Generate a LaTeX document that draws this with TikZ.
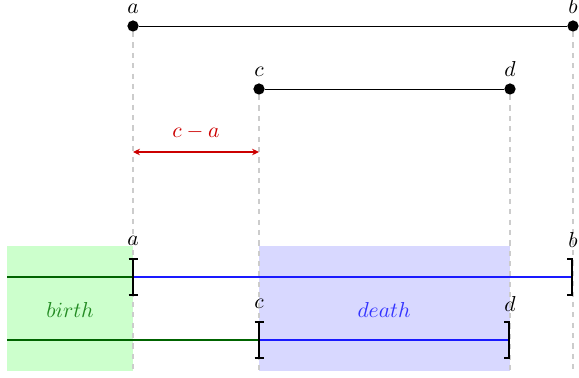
\documentclass[tikz,border=0pt]{standalone}
\usetikzlibrary{arrows.meta}
\definecolor{dgreen}{RGB}{0,100,0}
\definecolor{tgreen}{RGB}{34,139,34}
\definecolor{lgreen}{RGB}{204,255,204}
\definecolor{lblue}{RGB}{216,216,255}
\definecolor{mblue}{RGB}{26,26,255}
\definecolor{tblue}{RGB}{51,51,255}
\definecolor{dred}{RGB}{204,0,0}
\tikzset{
  dot/.style={circle,fill=black,inner sep=0pt,minimum size=5.2pt},
  guide/.style={draw=gray!40,line width=0.5pt,dash pattern=on 2.4pt off 2.4pt},
  seg/.style={line width=0.4pt},
  birthline/.style={draw=dgreen,line width=1.3pt},
  deathline/.style={draw=mblue,line width=1.3pt},
  brk/.style={line width=0.8pt},
  pt/.style={inner sep=0pt,minimum size=0pt},
  toplab/.style={anchor=south,inner sep=2.8pt},
}
\begin{document}
\begin{tikzpicture}[x=0.4625pt,y=-0.4625pt]
\useasboundingbox (0,0) rectangle (579,377);
% fills
\fill[lgreen] (7,246) rectangle (133,371);
\fill[lblue] (259,246) rectangle (510,371);
% top dots
\node[dot] (a1) at (133,26) {};
\node[dot] (b1) at (573,26) {};
\node[dot] (c1) at (259,89) {};
\node[dot] (d1) at (510,89) {};
\node[toplab] (la1) at (a1.north) {$a$};
\node[toplab] (lb1) at (b1.north) {$b$};
\node[toplab] (lc1) at (c1.north) {$c$};
\node[toplab] (ld1) at (d1.north) {$d$};
% guide ends
\coordinate (ga) at (133,371);
\coordinate (gb) at (573,371);
\coordinate (gc) at (259,371);
\coordinate (gd) at (510,371);
\draw[guide] (a1) -- (ga);
\draw[guide] (b1) -- (gb);
\draw[guide] (c1) -- (gc);
\draw[guide] (d1) -- (gd);
\draw[seg] (a1) -- (b1);
\draw[seg] (c1) -- (d1);
% red arrow
\coordinate (ra) at (133,152);
\coordinate (rc) at (259,152);
\draw[dred,line width=0.5pt,{Stealth[length=3.2pt,width=3pt]}-{Stealth[length=3.2pt,width=3pt]}] (ra) -- (rc) node[midway,above=2.5pt,text=dred] {$c-a$};
% bottom lines
\coordinate (s1) at (7,277);
\coordinate (s2) at (7,340);
\node[pt] (a2) at (133,277) {};
\node[pt] (b2) at (572,277) {};
\node[pt] (c2) at (259,340) {};
\node[pt] (d2) at (509,340) {};
\draw[birthline] (s1) -- (a2.center);
\draw[deathline] (a2.center) -- (b2.center);
\draw[birthline] (s2) -- (c2.center);
\draw[deathline] (c2.center) -- (d2.center);
% brackets
\draw[brk] ([shift={(-4.5,-18)}]a2.center) -- ++(9,0) ([shift={(0,-18)}]a2.center) -- ++(0,36) ([shift={(-4.5,18)}]a2.center) -- ++(9,0);
\draw[brk] ([shift={(-4.5,-18)}]c2.center) -- ++(9,0) ([shift={(0,-18)}]c2.center) -- ++(0,36) ([shift={(-4.5,18)}]c2.center) -- ++(9,0);
\draw[brk] ([shift={(-5,-18)}]b2.center) -- ++(5,0) -- ++(0,36) -- ++(-5,0);
\draw[brk] ([shift={(-5,-18)}]d2.center) -- ++(5,0) -- ++(0,36) -- ++(-5,0);
% labels
\node[anchor=base] (la2) at (133,245) {$a$};
\node[anchor=base] (lb2) at (573,247) {$b$};
\node[anchor=base] (lc2) at (259,308) {$c$};
\node[anchor=base] (ld2) at (510,311) {$d$};
\node[text=tgreen] (birth) at (70,310) {$birth$};
\node[text=tblue] (death) at (384,310) {$death$};
\end{tikzpicture}
\end{document}
